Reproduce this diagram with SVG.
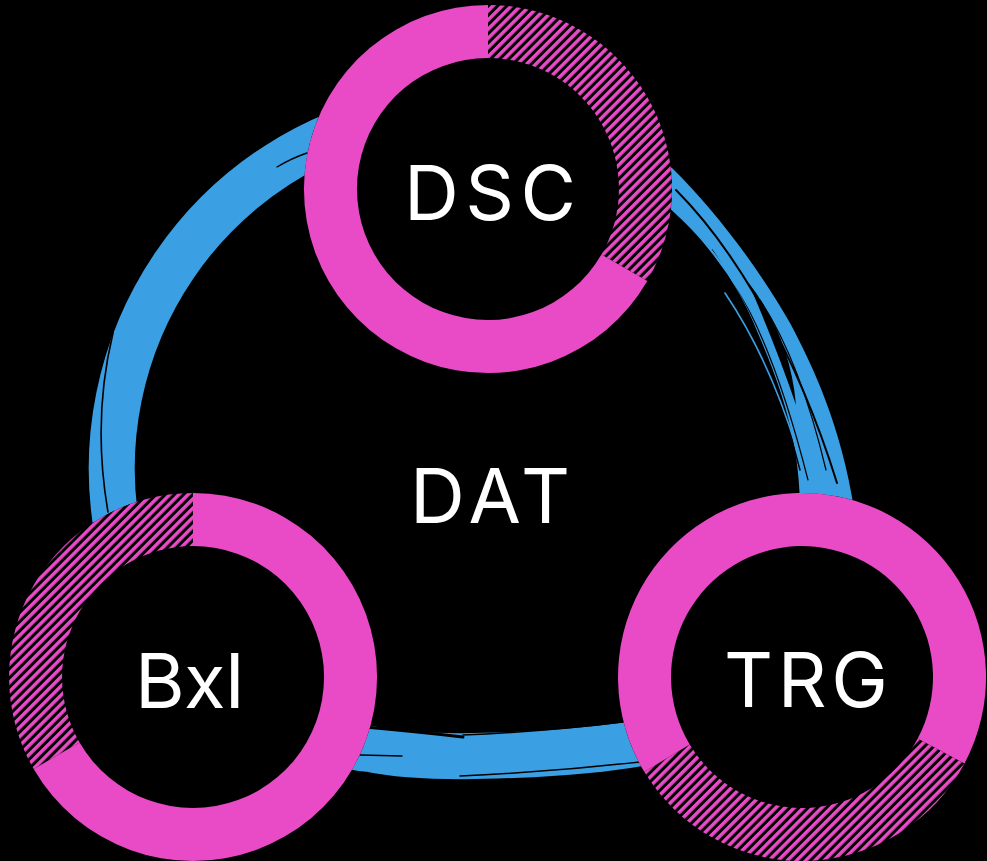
<svg xmlns="http://www.w3.org/2000/svg" width="987" height="861" viewBox="0 0 987 861">
  <defs>
    <pattern id="hatch" patternUnits="userSpaceOnUse" width="6.5" height="10" patternTransform="rotate(45)">
      <rect x="0" y="0" width="6.5" height="10" fill="#000"/>
      <rect x="0" y="0" width="3.5" height="10" fill="#E94BC6"/>
    </pattern>
    <style>
      .band { fill: none; stroke: #3B9FE3; stroke-width: 46; stroke-linecap: butt; }
      .bandfill { fill: #3B9FE3; }
      .streak { fill: none; stroke: #000; stroke-linecap: round; }
      .strand { fill: none; stroke: #3B9FE3; stroke-linecap: round; }
      .disc { fill: #000; }
      .solid { fill: #E94BC6; }
      .hatched { fill: url(#hatch); }
      .label { font-family: Inter, 'Noto Sans', 'DejaVu Sans', sans-serif; font-size: 76px; font-weight: 400; fill: #fff; text-anchor: middle; }
    </style>
  </defs>
  <rect x="0" y="0" width="987" height="861" fill="#000"/>

  <g id="connectors">
    <!-- left / top arc -->
    <path class="band" d="M117,530 A361,361 0 0 1 400,115 C470,100 560,110 610,140"/>
    <!-- right side (tapering brush) -->
    <path class="bandfill" d="M640,150 L672,168 C715,210 760,270 790,323 C815,370 848,440 858,540 L800,540 C802,470 795,420 760,338 C745,300 720,250 660,200 L630,178 Z"/>
    <!-- bottom -->
    <path class="band" d="M830,520 C838,560 700,738 640,743 C590,752 440,764 370,749 C280,745 127,589 117,530"/>
    <!-- brush texture -->
    <path class="streak" stroke-width="1.6" d="M113,333 Q92,420 108,512"/>
    <path class="streak" stroke-width="1.4" d="M277,167 Q292,158 307,153"/>
    <path class="streak" stroke-width="2" d="M676,190 C722,236 790,332 837,483"/>
    <path d="M748,282 Q790,336 796,405 Q776,346 748,282 Z" fill="#000"/>
    <path class="streak" stroke-width="1.5" d="M712,250 Q760,320 800,470"/>
    <path class="streak" stroke-width="1.2" d="M735,285 Q775,350 808,480"/>
    <path class="streak" stroke-width="1.2" d="M760,300 Q800,360 826,470"/>
    <path class="strand" stroke-width="2" d="M703,240 Q760,310 793,403"/>
    <path class="strand" stroke-width="1.6" d="M725,293 Q770,360 797,450"/>
    <path class="streak" stroke-width="3" d="M365,727 Q420,732 463,737"/>
    <path class="streak" stroke-width="1.5" d="M463,735 Q540,732 623,722"/>
    <path class="streak" stroke-width="1.5" d="M360,755 L402,756"/>
    <path class="streak" stroke-width="1.6" d="M460,776 Q550,772 640,762"/>
  </g>

  <g id="node-dsc">
    <circle class="disc" cx="488" cy="189" r="184"/>
    <path class="hatched" d="M488,5 A184,184 0 0 1 647.3,281 L601.4,254.5 A131,131 0 0 0 488,58 Z"/>
    <path class="solid" d="M647.3,281 A184,184 0 1 1 488,5 L488,58 A131,131 0 1 0 601.4,254.5 Z"/>
    <text class="label" x="490" y="220" textLength="172" lengthAdjust="spacing">DSC</text>
  </g>

  <g id="node-bxi">
    <circle class="disc" cx="193" cy="677" r="184"/>
    <path class="hatched" d="M33.7,769 A184,184 0 0 1 193,493 L193,546 A131,131 0 0 0 79.6,742.5 Z"/>
    <path class="solid" d="M193,493 A184,184 0 1 1 33.7,769 L79.6,742.5 A131,131 0 1 0 193,546 Z"/>
    <text class="label" x="190" y="708" textLength="110" lengthAdjust="spacing">BxI</text>
  </g>

  <g id="node-trg">
    <circle class="disc" cx="802" cy="677" r="184"/>
    <path class="hatched" d="M964.5,763.4 A184,184 0 0 1 644.3,771.8 L689.7,744.5 A131,131 0 0 0 917.7,738.5 Z"/>
    <path class="solid" d="M644.3,771.8 A184,184 0 1 1 964.5,763.4 L917.7,738.5 A131,131 0 1 0 689.7,744.5 Z"/>
    <text class="label" x="806" y="707" textLength="164" lengthAdjust="spacing">TRG</text>
  </g>

  <g id="node-dat">
    <text class="label" x="490" y="523" textLength="160" lengthAdjust="spacing">DAT</text>
  </g>
</svg>
